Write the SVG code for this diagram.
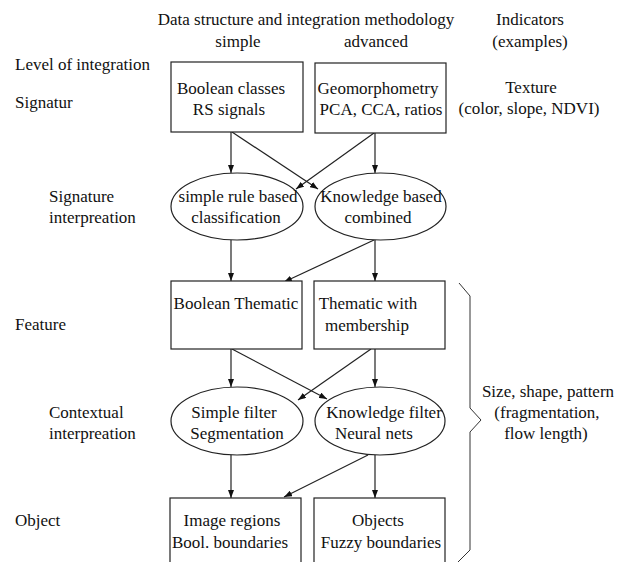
<svg xmlns="http://www.w3.org/2000/svg" width="626" height="562" viewBox="0 0 626 562">
<defs>
<marker id="arr" markerWidth="8" markerHeight="6" refX="8" refY="3" orient="auto" markerUnits="userSpaceOnUse">
<path d="M0,0 L8,3 L0,6 z" fill="#111"/>
</marker>
<style>
text{font-family:"Liberation Serif","Times New Roman",serif;font-size:17px;fill:#111}
.m{text-anchor:middle}
.box{fill:#fff;stroke:#222;stroke-width:1.2}
.conn line{stroke:#222;stroke-width:1.2;marker-end:url(#arr)}
.brace{fill:none;stroke:#333;stroke-width:1}
</style>
</defs>
<rect width="626" height="562" fill="#fff"/>
<g id="header">
<text x="306" y="25" class="m">Data structure and integration methodology</text>
<text x="238" y="47" class="m">simple</text>
<text x="376" y="47" class="m">advanced</text>
<text x="530" y="25" class="m">Indicators</text>
<text x="530" y="47" class="m">(examples)</text>
</g>
<g id="levels">
<text x="15" y="70">Level of integration</text>
<text x="15" y="108">Signatur</text>
<text x="49" y="202">Signature</text>
<text x="49" y="223">interpreation</text>
<text x="15" y="330">Feature</text>
<text x="49" y="418">Contextual</text>
<text x="49" y="439">interpreation</text>
<text x="15" y="526">Object</text>
</g>
<g id="indicators">
<text x="531" y="93" class="m">Texture</text>
<text x="529" y="114" class="m">(color, slope, NDVI)</text>
<path class="brace" d="M459,283 L470,296 L470,408 L481,420 L470,432 L470,550 L458,562"/>
<text x="548" y="397" class="m">Size, shape, pattern</text>
<text x="547" y="418" class="m">(fragmentation,</text>
<text x="546" y="439" class="m">flow length)</text>
</g>
<g class="conn" id="connectors">
<line x1="231" y1="132" x2="231" y2="173"/>
<line x1="232" y1="132" x2="318" y2="189"/>
<line x1="374" y1="133" x2="296" y2="189"/>
<line x1="375" y1="133" x2="375" y2="173"/>
<line x1="231" y1="240" x2="231" y2="281"/>
<line x1="374" y1="240" x2="284" y2="282"/>
<line x1="375" y1="240" x2="375" y2="281"/>
<line x1="231" y1="349" x2="231" y2="387"/>
<line x1="232" y1="349" x2="327" y2="399"/>
<line x1="371" y1="349" x2="298" y2="400"/>
<line x1="375" y1="349" x2="375" y2="387"/>
<line x1="231" y1="455" x2="231" y2="498"/>
<line x1="368" y1="455" x2="284" y2="497"/>
<line x1="375" y1="455" x2="375" y2="498"/>
</g>
<g id="n-boolean-classes">
<rect class="box" x="171" y="62" width="132" height="70"/>
<text x="231" y="94" class="m">Boolean classes</text>
<text x="229" y="115" class="m">RS signals</text>
</g>
<g id="n-geomorphometry">
<rect class="box" x="315" y="63" width="131" height="70"/>
<text x="378" y="94" class="m">Geomorphometry</text>
<text x="381" y="115" class="m">PCA, CCA, ratios</text>
</g>
<g id="n-simple-rule">
<ellipse class="box" cx="237" cy="206.5" rx="66" ry="33.5"/>
<text x="238" y="202" class="m">simple rule based</text>
<text x="236" y="223" class="m">classification</text>
</g>
<g id="n-knowledge-based">
<ellipse class="box" cx="380.5" cy="206.5" rx="65.5" ry="33.5"/>
<text x="381" y="202" class="m">Knowledge based</text>
<text x="378" y="223" class="m">combined</text>
</g>
<g id="n-boolean-thematic">
<rect class="box" x="171" y="281" width="131" height="68"/>
<text x="236" y="309" class="m">Boolean Thematic</text>
</g>
<g id="n-thematic-membership">
<rect class="box" x="314" y="281" width="131" height="68"/>
<text x="368" y="309" class="m">Thematic with</text>
<text x="367" y="331" class="m">membership</text>
</g>
<g id="n-simple-filter">
<ellipse class="box" cx="237" cy="421" rx="66" ry="34"/>
<text x="234" y="418" class="m">Simple filter</text>
<text x="237" y="439" class="m">Segmentation</text>
</g>
<g id="n-knowledge-filter">
<ellipse class="box" cx="380" cy="421" rx="65" ry="34"/>
<text x="384" y="418" class="m">Knowledge filter</text>
<text x="374" y="439" class="m">Neural nets</text>
</g>
<g id="n-image-regions">
<rect class="box" x="170" y="498" width="131" height="72"/>
<text x="232" y="526" class="m">Image regions</text>
<text x="230" y="548" class="m">Bool. boundaries</text>
</g>
<g id="n-objects">
<rect class="box" x="314" y="498" width="131" height="72"/>
<text x="378" y="526" class="m">Objects</text>
<text x="381" y="548" class="m">Fuzzy boundaries</text>
</g>
</svg>
